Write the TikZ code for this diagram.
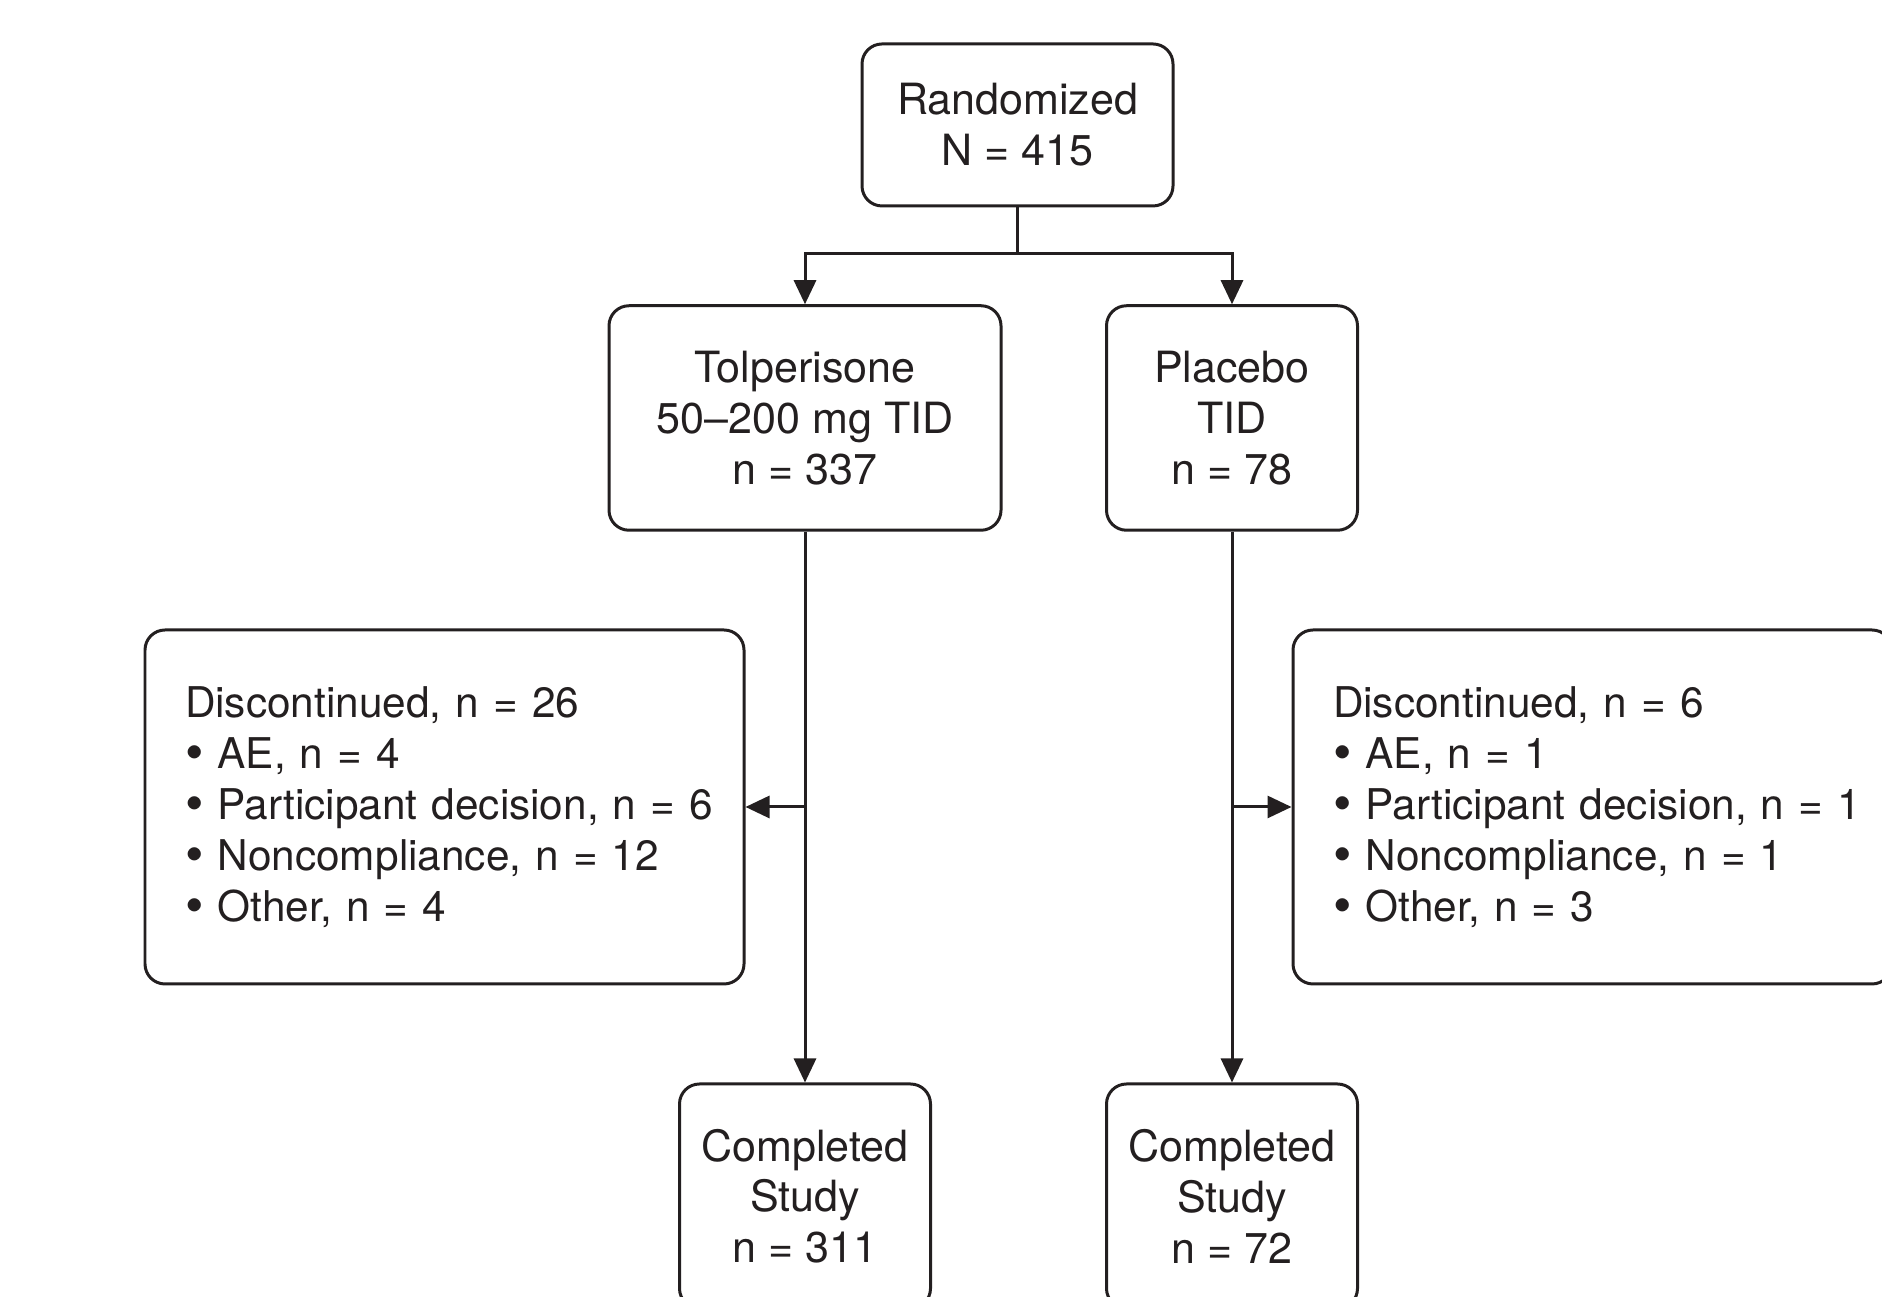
\documentclass[tikz,border=0pt]{standalone}
\usepackage{fontspec}
\setmainfont{TeX Gyre Heros}
\usepackage{xcolor}
\usepackage{tikz}
\usetikzlibrary{arrows.meta, positioning}
\definecolor{Ink}{HTML}{231F20}
\newcommand{\reasonbul}{{\fontsize{15}{14.5}\selectfont\raisebox{-0.08ex}{\textbullet}}}
\tikzset{
  stagebox/.style={draw=Ink, line width=0.85pt, rounded corners=0.2cm, align=center,
    text=Ink, font=\fontsize{12.25}{14.5}\selectfont, inner sep=0pt},
  reasonbox/.style={draw=Ink, line width=0.85pt, rounded corners=0.2cm, align=left,
    text=Ink, font=\fontsize{12.05}{14.5}\selectfont, text width=5.99cm, inner xsep=0pt,
    minimum height=3.54cm, execute at begin node={\leftskip=0.40cm}},
  flow/.style={-{Triangle[length=0.24cm, width=0.22cm]}, line width=0.85pt, color=Ink},
  link/.style={line width=0.85pt, color=Ink},
}

\begin{document}
\begin{tikzpicture}
  \useasboundingbox (0,0) rectangle (18.82,12.97);
  \clip (0,0) rectangle (18.82,12.97);

  % Randomization
  \node[stagebox, minimum width=3.11cm, minimum height=1.62cm] (rand) at (10.175,11.72)
    {Randomized\\N = 415};

  % Treatment arms
  \node[stagebox, minimum width=3.92cm, minimum height=2.245cm] (tolp) at (8.05,8.79)
    {Tolperisone\\50–200 mg TID\\n = 337};
  \node[stagebox, minimum width=2.51cm, minimum height=2.245cm] (plac) at (12.32,8.79)
    {Placebo\\TID\\n = 78};

  % Discontinuations
  \node[reasonbox] (tdisc) at (4.445,4.90)
    {Discontinued, n = 26\\
     \reasonbul{} AE, n = 4\\
     \reasonbul{} Participant decision, n = 6\\
     \reasonbul{} Noncompliance, n = 12\\
     \reasonbul{} Other, n = 4};
  \node[reasonbox] (pdisc) at (15.925,4.90)
    {Discontinued, n = 6\\
     \reasonbul{} AE, n = 1\\
     \reasonbul{} Participant decision, n = 1\\
     \reasonbul{} Noncompliance, n = 1\\
     \reasonbul{} Other, n = 3};

  % Completers
  \node[stagebox, minimum width=2.51cm, minimum height=2.245cm] (tdone) at (8.05,1.0075)
    {Completed\\Study\\n = 311};
  \node[stagebox, minimum width=2.51cm, minimum height=2.245cm] (pdone) at (12.32,1.0075)
    {Completed\\Study\\n = 72};

  % Connectors
  \coordinate (split) at (rand.south |- 0,10.43);
  \draw[link] (rand.south) -- (split);
  \draw[flow] (split) -| (tolp.north);
  \draw[flow] (split) -| (plac.north);

  \draw[flow] (tolp.south) -- (tdone.north);
  \draw[flow] (plac.south) -- (pdone.north);
  \draw[flow] (tolp.south |- tdisc.east) -- (tdisc.east);
  \draw[flow] (plac.south |- pdisc.west) -- (pdisc.west);
\end{tikzpicture}
\end{document}
